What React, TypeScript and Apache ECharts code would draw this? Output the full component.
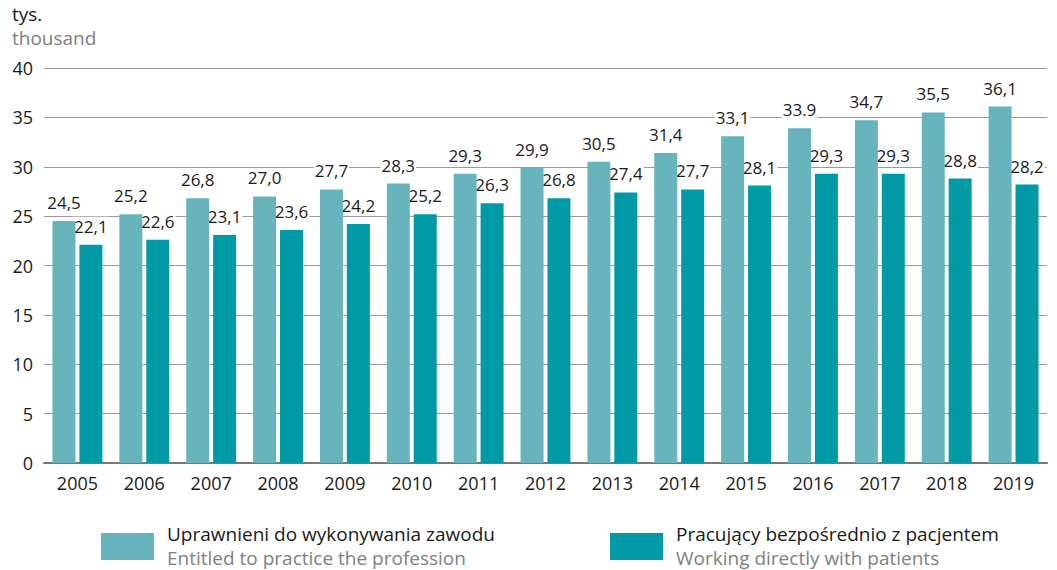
import React, { useEffect, useRef } from "react";
import * as echarts from "echarts";

const years = ["2005","2006","2007","2008","2009","2010","2011","2012","2013","2014","2015","2016","2017","2018","2019"];
const entitled = [24.5,25.2,26.8,27.0,27.7,28.3,29.3,29.9,30.5,31.4,33.1,33.9,34.7,35.5,36.1];
const working = [22.1,22.6,23.1,23.6,24.2,25.2,26.3,26.8,27.4,27.7,28.1,29.3,29.3,28.8,28.2];
const entitledLabels = ["24,5","25,2","26,8","27,0","27,7","28,3","29,3","29,9","30,5","31,4","33,1","33.9","34,7","35,5","36,1"];
const workingLabels = ["22,1","22,6","23,1","23,6","24,2","25,2","26,3","26,8","27,4","27,7","28,1","29,3","29,3","28,8","28,2"];
const seriesNamesPl = ["Uprawnieni do wykonywania zawodu", "Pracujący bezpośrednio z pacjentem"];
const seriesNamesEn = ["Entitled to practice the profession", "Working directly with patients"];
const colors = ["#67b4bd", "#009aa7"];

const FONT = "'Open Sans', 'Noto Sans', sans-serif";

export default function App() {
  const ref = useRef<HTMLDivElement>(null);
  useEffect(() => {
    if (!ref.current) return;
    const chart = echarts.init(ref.current, undefined, { renderer: "svg" });
    const label = (labels: string[]) => ({
      show: true,
      position: "top",
      distance: 10,
      color: "#1a1a1a",
      fontSize: 17,
      fontFamily: FONT,
      backgroundColor: "#ffffff",
      padding: [1, 1, 0, 1],
      formatter: (p: any) => labels[p.dataIndex],
    });
    chart.setOption({
      animation: false,
      textStyle: { fontFamily: FONT },
      grid: { left: 44, right: 10, top: 68, bottom: 107, containLabel: false },
      xAxis: {
        type: "category",
        data: years,
        axisTick: { show: false },
        axisLine: { show: true, lineStyle: { color: "#777", width: 2 } },
        axisLabel: { color: "#1a1a1a", fontSize: 18, fontFamily: FONT, margin: 11 },
      },
      yAxis: {
        type: "value",
        min: 0,
        max: 40,
        interval: 5,
        axisLine: { show: false },
        axisTick: { show: false },
        axisLabel: { color: "#1a1a1a", fontSize: 18, fontFamily: FONT, margin: 11 },
        splitLine: { lineStyle: { color: "#9a9a9a", width: 1 } },
      },
      series: [
        {
          name: seriesNamesPl[0],
          type: "bar",
          data: entitled,
          barWidth: 23,
          barGap: "17%",
          itemStyle: { color: colors[0] },
          label: label(entitledLabels),
          z: 5,
        },
        {
          name: seriesNamesPl[1],
          type: "bar",
          data: working,
          barWidth: 23,
          barGap: "17%",
          itemStyle: { color: colors[1] },
          label: label(workingLabels),
          z: 3,
        },
      ],
      graphic: [
        { type: "text", left: 12, top: 4, style: { text: "tys.", fill: "#1a1a1a", font: `19px ${FONT}` } },
        { type: "text", left: 12, top: 28, style: { text: "thousand", fill: "#808080", font: `19px ${FONT}` } },
        { type: "rect", shape: { x: 101, y: 533, width: 53, height: 27 }, style: { fill: colors[0] } },
        { type: "text", x: 167, y: 524, style: { text: seriesNamesPl[0], fill: "#1a1a1a", font: `19px ${FONT}` } },
        { type: "text", x: 167, y: 548, style: { text: seriesNamesEn[0], fill: "#808080", font: `19px ${FONT}` } },
        { type: "rect", shape: { x: 610, y: 533, width: 53, height: 27 }, style: { fill: colors[1] } },
        { type: "text", x: 676, y: 524, style: { text: seriesNamesPl[1], fill: "#1a1a1a", font: `19px ${FONT}` } },
        { type: "text", x: 676, y: 548, style: { text: seriesNamesEn[1], fill: "#808080", font: `19px ${FONT}` } },
      ],
    });
    return () => chart.dispose();
  }, []);
  return <div ref={ref} style={{ width: 1057, height: 570, position: "absolute", left: 0, top: 0 }} />;
}
